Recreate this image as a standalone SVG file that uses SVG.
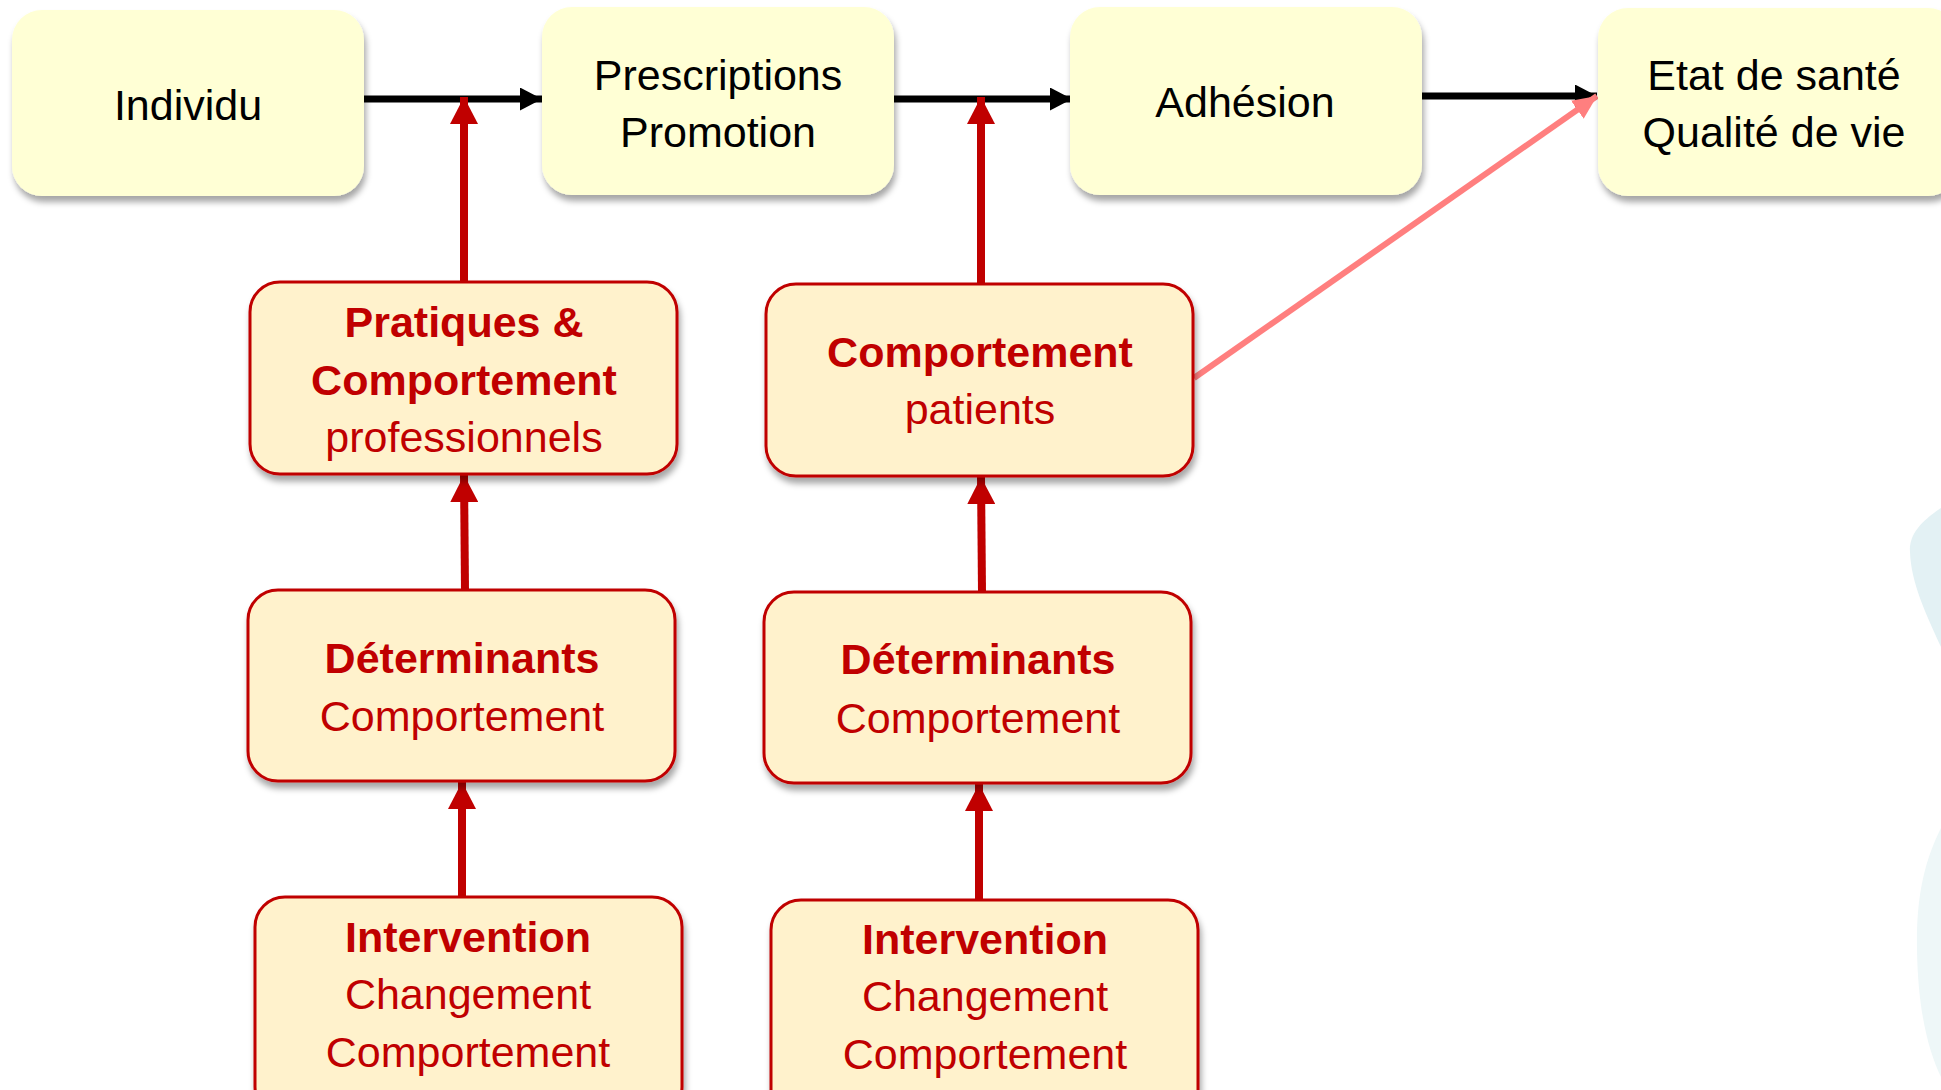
<svg xmlns="http://www.w3.org/2000/svg" width="1941" height="1090" viewBox="0 0 1941 1090">
<style>
.top rect{fill:#FFFFD5;}
.red rect{fill:#FFF2CC;stroke:#C00000;stroke-width:3;}
text{font-family:"Liberation Sans",Arial,sans-serif;font-size:43px;text-anchor:middle;}
.top text{fill:#000;}
.red text{fill:#C00000;}
.b{font-weight:bold;}
.blk{stroke:#000;stroke-width:7;fill:none;}
.rd{stroke:#C00000;stroke-width:8;fill:none;}
.pk{stroke:#FF7F7F;stroke-width:6;fill:none;}
</style>
<defs>
<filter id="sh" x="-10%" y="-10%" width="130%" height="140%">
<feDropShadow dx="2" dy="6" stdDeviation="3" flood-color="#000" flood-opacity="0.35"/>
</filter>
<marker id="ab" markerUnits="userSpaceOnUse" markerWidth="24" markerHeight="24" refX="22" refY="11.5" orient="auto">
<path d="M0,0 L22,11.5 L0,23 Z" fill="#000"/>
</marker>
<marker id="ar" markerUnits="userSpaceOnUse" markerWidth="28" markerHeight="28" refX="27" refY="14" orient="auto">
<path d="M0,0 L27,14 L0,28 Z" fill="#C00000"/>
</marker>
<marker id="ap" markerUnits="userSpaceOnUse" markerWidth="26" markerHeight="22" refX="24" refY="11" orient="auto">
<path d="M0,0 L24,11 L0,22 Z" fill="#FF7F7F"/>
</marker>
</defs>
<rect width="1941" height="1090" fill="#FFFFFF"/>
<path d="M1941,508 C1920,522 1909,535 1910,552 C1911,582 1925,612 1941,647 Z" fill="#E3F1F4"/>
<path d="M1941,828 C1925,860 1916,895 1917,950 C1918,1010 1928,1050 1941,1077 Z" fill="#EEF7F8"/>

<g id="connectors">
<line class="blk" x1="364" y1="99" x2="542" y2="99" marker-end="url(#ab)"/>
<line class="blk" x1="894" y1="99" x2="1072" y2="99" marker-end="url(#ab)"/>
<line class="blk" x1="1421" y1="96" x2="1597" y2="96" marker-end="url(#ab)"/>
<line class="rd" x1="464" y1="282" x2="464" y2="97" marker-end="url(#ar)"/>
<line class="rd" x1="981" y1="284" x2="981" y2="97" marker-end="url(#ar)"/>
<line class="rd" x1="465" y1="590" x2="464" y2="475" marker-end="url(#ar)"/>
<line class="rd" x1="982" y1="592" x2="981" y2="477" marker-end="url(#ar)"/>
<line class="rd" x1="462" y1="897" x2="462" y2="782" marker-end="url(#ar)"/>
<line class="rd" x1="979" y1="900" x2="979" y2="784" marker-end="url(#ar)"/>
<line class="pk" x1="1194" y1="378" x2="1597" y2="96" marker-end="url(#ap)"/>
</g>

<g id="individu" class="top"><rect x="12" y="10" width="352" height="186" rx="30" filter="url(#sh)"/><text x="188" y="120">Individu</text></g>
<g id="prescriptions" class="top"><rect x="542" y="7" width="352" height="188" rx="30" filter="url(#sh)"/><text x="718" y="90">Prescriptions</text><text x="718" y="147">Promotion</text></g>
<g id="adhesion" class="top"><rect x="1070" y="7" width="352" height="188" rx="30" filter="url(#sh)"/><text x="1245" y="117">Adhésion</text></g>
<g id="etat" class="top"><rect x="1598" y="8" width="360" height="188" rx="30" filter="url(#sh)"/><text x="1774" y="90">Etat de santé</text><text x="1774" y="147">Qualité de vie</text></g>

<g id="pratiques" class="red"><rect x="250" y="282" width="427" height="192" rx="30" filter="url(#sh)"/><text class="b" x="464" y="337">Pratiques &amp;</text><text class="b" x="464" y="395">Comportement</text><text x="464" y="452">professionnels</text></g>
<g id="comportement-patients" class="red"><rect x="766" y="284" width="427" height="192" rx="30" filter="url(#sh)"/><text class="b" x="980" y="367">Comportement</text><text x="980" y="424">patients</text></g>
<g id="determinants-1" class="red"><rect x="248" y="590" width="427" height="191" rx="30" filter="url(#sh)"/><text class="b" x="462" y="673">Déterminants</text><text x="462" y="731">Comportement</text></g>
<g id="determinants-2" class="red"><rect x="764" y="592" width="427" height="191" rx="30" filter="url(#sh)"/><text class="b" x="978" y="674">Déterminants</text><text x="978" y="733">Comportement</text></g>
<g id="intervention-1" class="red"><rect x="255" y="897" width="427" height="220" rx="30" filter="url(#sh)"/><text class="b" x="468" y="952">Intervention</text><text x="468" y="1009">Changement</text><text x="468" y="1067">Comportement</text></g>
<g id="intervention-2" class="red"><rect x="771" y="900" width="427" height="220" rx="30" filter="url(#sh)"/><text class="b" x="985" y="954">Intervention</text><text x="985" y="1011">Changement</text><text x="985" y="1069">Comportement</text></g>
</svg>
